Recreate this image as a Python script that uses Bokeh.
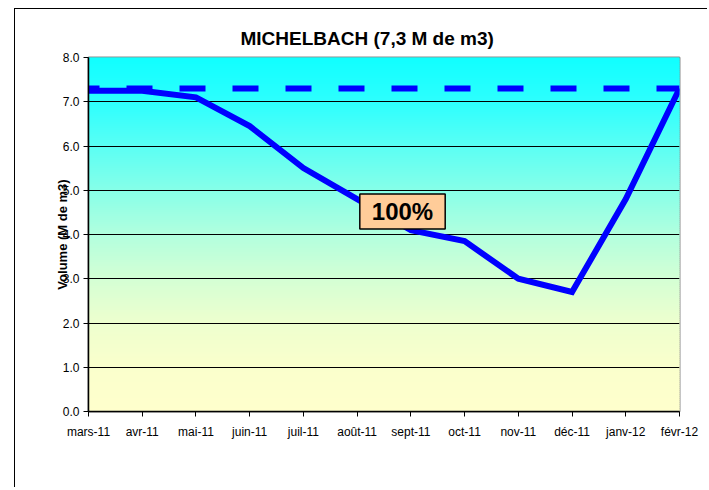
import numpy as np
from bokeh.plotting import figure
from bokeh.models import FixedTicker, PrintfTickFormatter, Label, Range1d, ColumnDataSource
from bokeh.embed import file_html
from bokeh.resources import INLINE

# ---- data ----
months = ["mars-11", "avr-11", "mai-11", "juin-11", "juil-11", "août-11",
          "sept-11", "oct-11", "nov-11", "déc-11", "janv-12", "févr-12"]
volumes = [7.25, 7.25, 7.1, 6.45, 5.5, 4.8, 4.1, 3.85, 3.0, 2.7, 4.8, 7.3]
capacity = 7.3
y_ticks = [0, 1, 2, 3, 4, 5, 6, 7, 8]
title_text = "MICHELBACH (7,3 M de m3)"
y_label = "Volume (M de m3)"
pct_text = "100%"

# background gradient colour stops (value -> rgb)
grad_y = [0, 1, 2, 3, 4, 5, 6, 7, 8]
grad_r = [255, 250, 238, 212, 178, 135, 90, 45, 16]
grad_g = [255, 255, 255, 255, 255, 255, 255, 255, 255]
grad_b = [204, 204, 206, 212, 222, 232, 244, 254, 255]

FONT = "Liberation Sans"
n = len(months)
x_idx = list(range(n))

p = figure(output_backend="svg", toolbar_location=None,
           x_range=Range1d(0, n - 1), y_range=Range1d(y_ticks[0], y_ticks[-1]),
           frame_width=591, frame_height=354,
           min_border_left=73, min_border_top=48, min_border_right=28, min_border_bottom=76)
p.margin = (8, 0, 0, 14)
p.styles = {"border-left": "1px solid #000", "border-top": "1px solid #000"}
p.background_fill_color = "white"
p.border_fill_color = "white"
p.outline_line_color = "#8c8c8c"
p.outline_line_width = 2

# title
p.title.text = title_text
p.title.align = "left"
p.title.offset = 152
p.title.text_font = FONT
p.title.text_font_style = "bold"
p.title.text_font_size = "19px"
p.title.text_color = "#000000"
p.title.standoff = 18

# gradient background bands
edges = np.linspace(y_ticks[0], y_ticks[-1], 178)
mids = (edges[:-1] + edges[1:]) / 2
rs = np.interp(mids, grad_y, grad_r)
gs = np.interp(mids, grad_y, grad_g)
bs = np.interp(mids, grad_y, grad_b)
cols = ["#%02x%02x%02x" % (int(round(r)), int(round(g)), int(round(b))) for r, g, b in zip(rs, gs, bs)]
bg = ColumnDataSource(dict(bottom=edges[:-1], top=edges[1:], color=cols))
p.quad(left=0, right=n - 1, bottom="bottom", top="top", fill_color="color",
       line_color="color", line_width=1, source=bg, level="image")

# grid
p.xgrid.visible = False
p.ygrid.ticker = FixedTicker(ticks=y_ticks[1:-1])
p.ygrid.grid_line_color = "#000000"
p.ygrid.grid_line_width = 1

# capacity dashed line
p.line(x=[x_idx[0], x_idx[-1]], y=[capacity, capacity], line_color="#0000ff",
       line_width=6, line_dash="26 27", line_dash_offset=15)
# volume line
p.line(x=x_idx, y=volumes, line_color="#0000ff", line_width=6, line_join="miter")

# axes
p.xaxis.ticker = FixedTicker(ticks=x_idx)
p.xaxis.major_label_overrides = {i: m for i, m in enumerate(months)}
p.yaxis.ticker = FixedTicker(ticks=y_ticks)
p.yaxis.formatter = PrintfTickFormatter(format="%.1f")
for ax in (p.xaxis[0], p.yaxis[0]):
    ax.axis_line_color = "#000000"
    ax.axis_line_width = 1.5
    ax.major_tick_line_color = "#000000"
    ax.major_tick_in = 0
    ax.major_tick_out = 5
    ax.minor_tick_line_color = None
    ax.major_label_text_font = FONT
    ax.major_label_text_font_size = "12px"
    ax.major_label_text_color = "#000000"
p.xaxis.major_label_standoff = 8
p.yaxis.major_label_standoff = 4
p.yaxis.axis_label = y_label
p.yaxis.axis_label_text_font = FONT
p.yaxis.axis_label_text_font_style = "bold"
p.yaxis.axis_label_text_font_size = "13px"
p.yaxis.axis_label_text_color = "#000000"
p.yaxis.axis_label_standoff = -10

# 100% label
p.add_layout(Label(x=314, y=200, x_units="screen", y_units="screen", text=pct_text,
                   text_font=FONT, text_font_style="bold", text_font_size="24px",
                   text_align="center", text_baseline="middle", text_color="#000000",
                   background_fill_color="#ffcc99", border_line_color="#000000",
                   border_line_width=1.5, padding=(12, 12, 4, 4)))

open("out.html", "w").write(file_html(p, INLINE))
